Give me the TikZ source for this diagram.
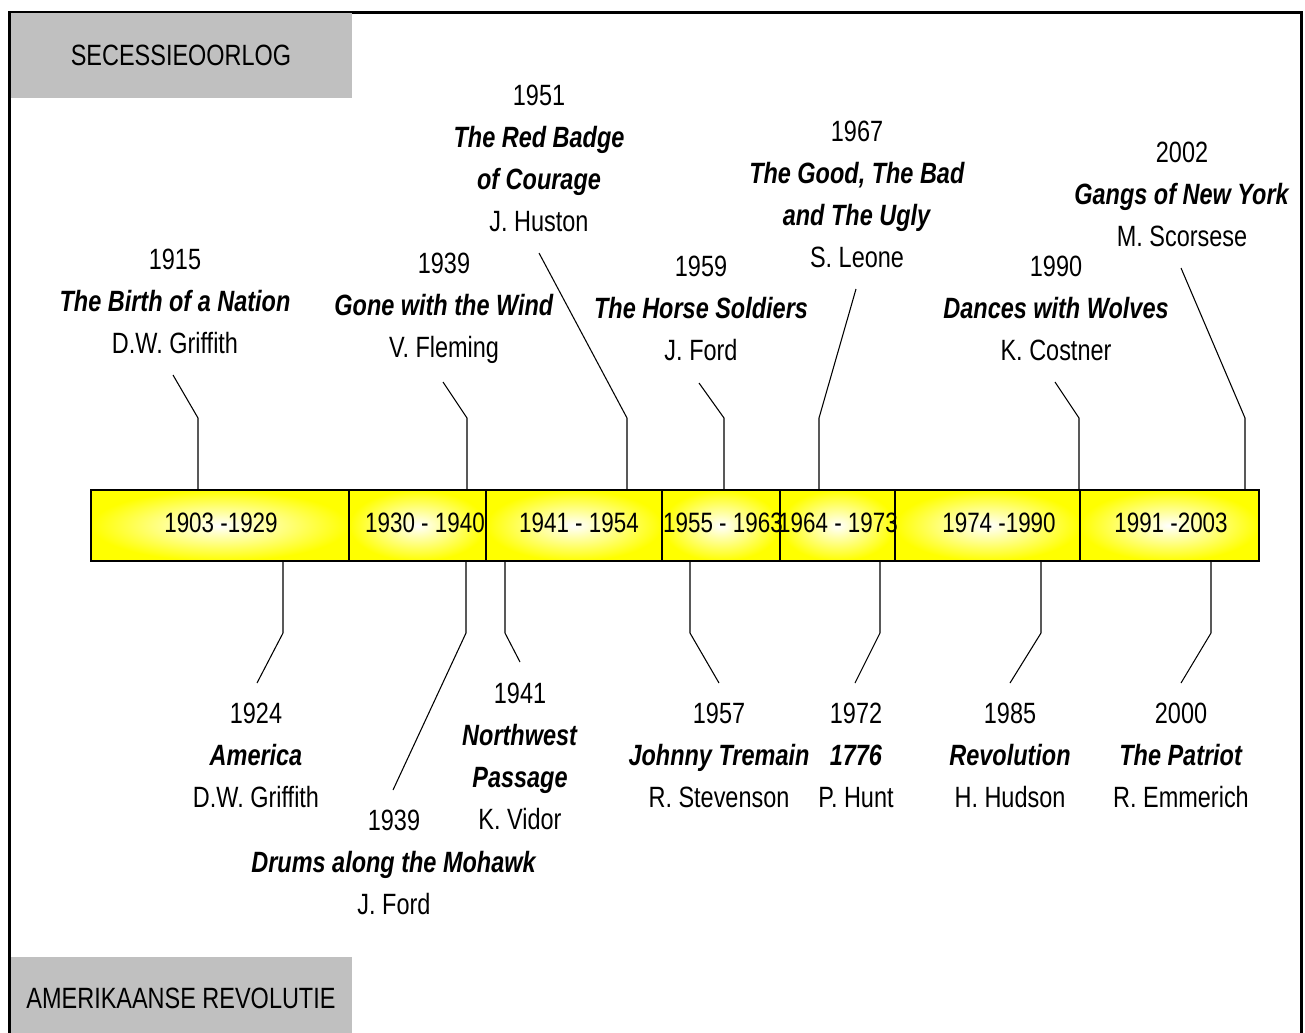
\documentclass[tikz,border=0pt]{standalone}
\usepackage{fontspec}
\setmainfont[FakeStretch=0.8]{Liberation Sans}
\usetikzlibrary{fit}
\definecolor{boxgray}{HTML}{C0C0C0}
\newcommand{\film}[1]{\textbf{\itshape #1}}

\begin{document}
\begin{tikzpicture}[
    x=0.75pt, y=-0.75pt,
    every node/.style={font=\fontsize{22}{31.5}\selectfont},
    event/.style={align=center, inner sep=0pt},
    period/.style={draw=black, line width=1.1pt, inner color=white, outer color=yellow},
    leader/.style={black, line width=0.8pt},
    tagbox/.style={fill=boxgray},
  ]
  \useasboundingbox (0,0) rectangle (1305,1032);
  \clip (0,0) rectangle (1305,1032);

  % Outer frame
  \draw[line width=2.25pt] (9,1040) -- (9,12) -- (1301,12) -- (1301,1040);

  % Grey headers
  \fill[tagbox] (11,13) rectangle (352,98);
  \node (secessie) at (181,55) {SECESSIEOORLOG};
  \fill[tagbox] (11,957) rectangle (352,1040);
  \node (revolutie) at (181,998) {AMERIKAANSE REVOLUTIE};

  % Timeline bar
  \foreach \l/\r in {91/349, 349/486, 486/662, 662/780, 780/895, 895/1080, 1080/1259}
    \shadedraw[period] (\l,490) rectangle (\r,561);
  \node[fit={(91,490)(1259,561)}, inner sep=0pt] (bar) {};
  \foreach \x/\lab [count=\i] in {221/1903 -1929, 425/1930 - 1940, 579/1941 - 1954,
      723/1955 - 1963, 838/1964 - 1973, 999/1974 -1990, 1171/1991 -2003}
    \node[font=\fontsize{21}{25}\selectfont] (p\i) at (\x,523) {\lab};

  %%% Films above the bar
  \node[event] (e1915) at (175,301) {1915\\\film{The Birth of a Nation}\\D.W. Griffith};
  \node[event] (e1939gone) at (444,308) {1939\\\film{Gone with the Wind}\\V. Fleming};
  \node[event] (e1951) at (539,158) {1951\\\film{The Red Badge}\\\film{of Courage}\\J. Huston};
  \node[event] (e1959) at (701,308) {1959\\\film{The Horse Soldiers}\\J. Ford};
  \node[event] (e1967) at (857,194) {1967\\\film{The Good, The Bad}\\\film{and The Ugly}\\S. Leone};
  \node[event] (e1990) at (1056,308) {1990\\\film{Dances with Wolves}\\K. Costner};
  \node[event] (e2002) at (1182,194) {2002\\\film{Gangs of New York}\\M. Scorsese};

  % leaders: tip, kink, then straight down to the bar
  \foreach \n/\tx/\ty/\kx in {1915/173/375/198, 1939gone/443/382/467, 1951/539/253/627,
      1959/699/383/724, 1967/856/289/819, 1990/1055/382/1079, 2002/1181/268/1245} {
    \coordinate (t\n) at (\tx,\ty);
    \coordinate (k\n) at (\kx,418);
    \draw[leader] (t\n) -- (k\n) -- (k\n |- bar.north);
  }

  %%% Films below the bar
  \node[event] (e1924) at (256,755) {1924\\\film{America}\\D.W. Griffith};
  \node[event] (e1939drums) at (394,862) {1939\\\film{Drums along the Mohawk}\\J. Ford};
  \node[event] (e1941) at (520,756) {1941\\\film{Northwest}\\\film{Passage}\\K. Vidor};
  \node[event] (e1957) at (719,755) {1957\\\film{Johnny Tremain}\\R. Stevenson};
  \node[event] (e1972) at (856,755) {1972\\\film{1776}\\P. Hunt};
  \node[event] (e1985) at (1010,755) {1985\\\film{Revolution}\\H. Hudson};
  \node[event] (e2000) at (1181,755) {2000\\\film{The Patriot}\\R. Emmerich};

  \foreach \n/\kx/\tx/\ty in {1924/283/257/683, 1939drums/466/393/790, 1941/505/520/662,
      1957/690/719/683, 1972/880/855/683, 1985/1041/1010/683, 2000/1211/1181/683} {
    \coordinate (k\n) at (\kx,633);
    \coordinate (t\n) at (\tx,\ty);
    \draw[leader] (k\n |- bar.south) -- (k\n) -- (t\n);
  }
\end{tikzpicture}
\end{document}
